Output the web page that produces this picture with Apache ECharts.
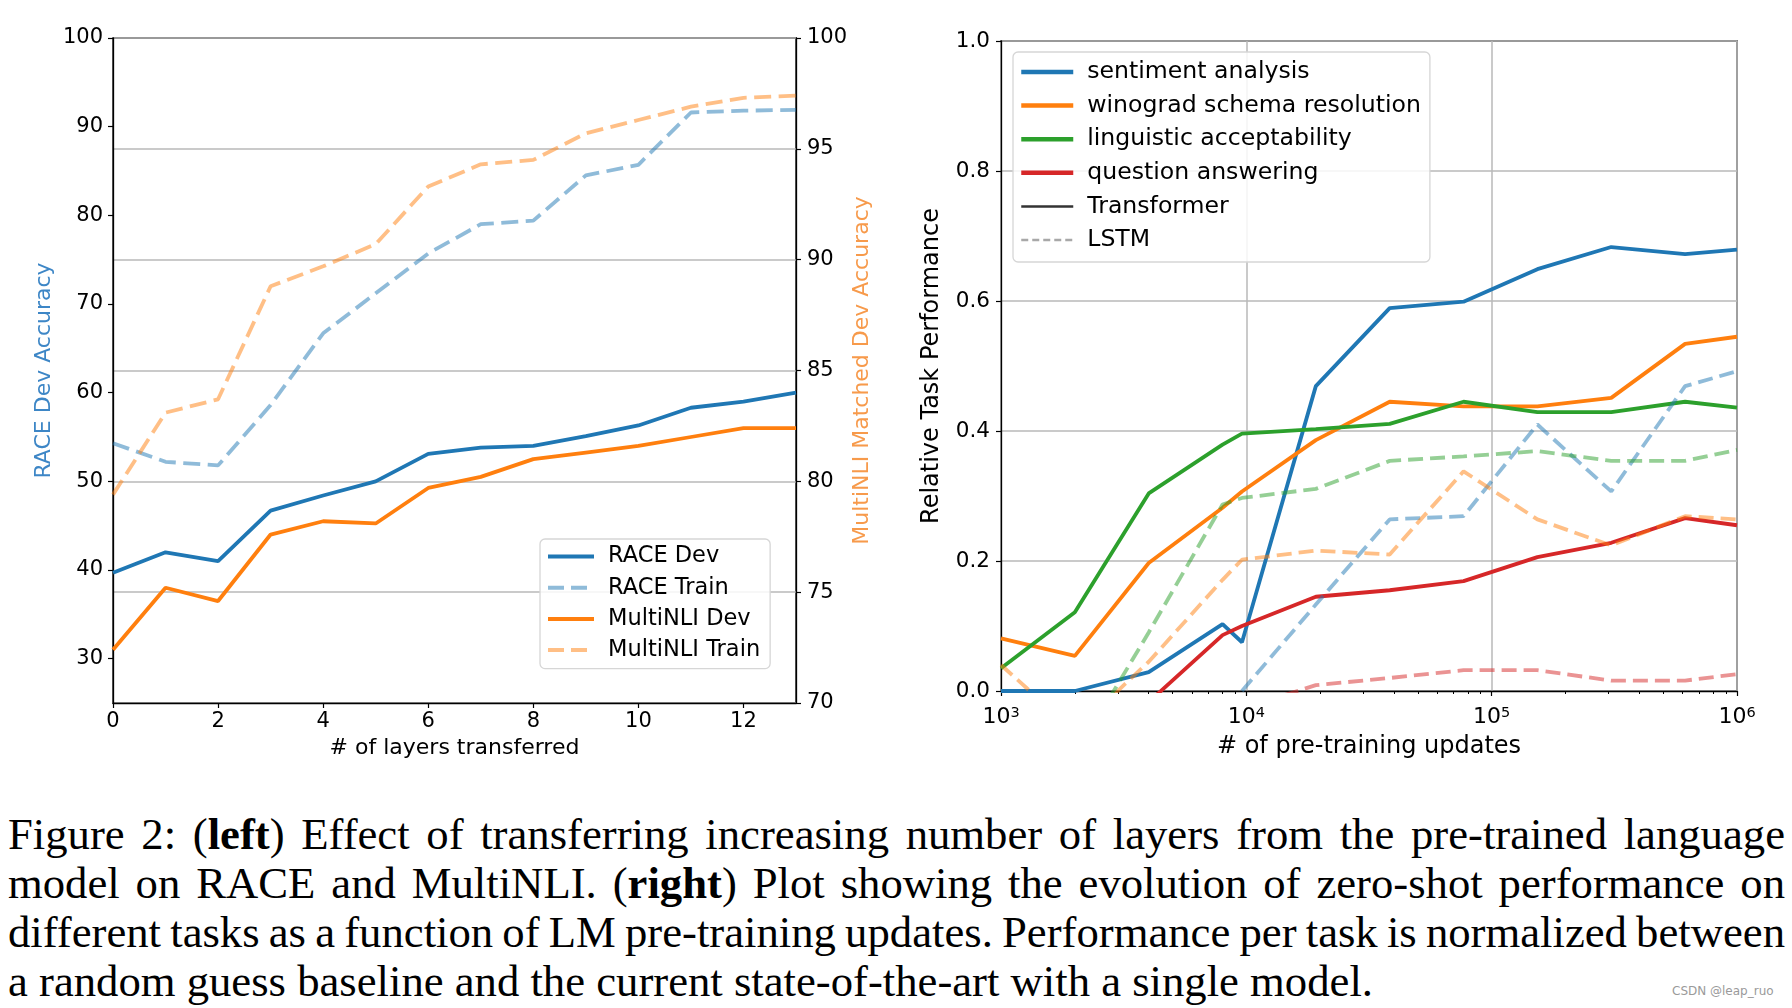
<!DOCTYPE html>
<html>
<head>
<meta charset="utf-8">
<script src="https://cdn.jsdelivr.net/npm/echarts@6/dist/echarts.min.js"></script>
<style>
html,body{margin:0;padding:0;background:#fff;width:1792px;height:1008px;overflow:hidden;}
#chart{position:absolute;left:0;top:0;width:1792px;height:790px;}
#caption{position:absolute;left:8px;top:810px;width:1777px;font-family:"Liberation Serif","Times New Roman",serif;font-size:44.7px;line-height:49px;color:#000;word-spacing:-3px;}
#caption .ln{text-align:justify;text-align-last:justify;}
#caption .last{text-align:left;text-align-last:left;word-spacing:0;}
#wm{position:absolute;left:1672px;top:984px;font-family:"DejaVu Sans",sans-serif;font-size:12px;color:#9a9a9a;}
</style>
</head>
<body>
<div id="chart"></div>
<div id="caption">
<div class="ln">Figure 2: (<b>left</b>) Effect of transferring increasing number of layers from the pre-trained language</div>
<div class="ln">model on RACE and MultiNLI. (<b>right</b>) Plot showing the evolution of zero-shot performance on</div>
<div class="ln">different tasks as a function of LM pre-training updates. Performance per task is normalized between</div>
<div class="ln last">a random guess baseline and the current state-of-the-art with a single model.</div>
</div>
<div id="wm">CSDN @leap_ruo</div>
<script>
// ---------- Left panel data ----------
const layers = [0, 1, 2, 3, 4, 5, 6, 7, 8, 9, 10, 11, 12, 13];
const raceDev = [39.7, 42.0, 41.0, 46.7, 48.4, 50.0, 53.1, 53.8, 54.0, 55.1, 56.3, 58.3, 59.0, 60.0];
const raceTrain = [54.3, 52.2, 51.8, 58.6, 66.7, 71.2, 75.7, 79.0, 79.4, 84.5, 85.7, 91.6, 91.8, 91.9];
const mnliDev = [72.4, 75.2, 74.6, 77.6, 78.2, 78.1, 79.7, 80.2, 81.0, 81.3, 81.6, 82.0, 82.4, 82.4];
const mnliTrain = [79.4, 83.1, 83.7, 88.8, 89.7, 90.7, 93.3, 94.3, 94.5, 95.7, 96.3, 96.9, 97.3, 97.4];
const leftXTicks = [0, 2, 4, 6, 8, 10, 12];
const leftYTicks = [30, 40, 50, 60, 70, 80, 90, 100];

// ---------- Right panel data ----------
const steps = [1000, 2000, 4000, 8000, 9600, 19200, 38400, 76800, 153600, 307200, 614400, 1000000];
const sentTr = [0.0, 0.0, 0.029, 0.103, 0.075, 0.469, 0.589, 0.599, 0.649, 0.683, 0.672, 0.679];
const winoTr = [0.081, 0.054, 0.197, 0.282, 0.307, 0.386, 0.445, 0.438, 0.438, 0.451, 0.534, 0.545];
const lingTr = [0.035, 0.121, 0.304, 0.379, 0.396, 0.403, 0.411, 0.445, 0.429, 0.429, 0.445, 0.436];
const qaTr = [null, null, -0.017, 0.086, 0.100, 0.145, 0.155, 0.169, 0.206, 0.228, 0.266, 0.255];
const sentLstm = [null, null, null, null, 0.0, 0.133, 0.264, 0.269, 0.410, 0.307, 0.469, 0.492];
const winoLstm = [0.040, -0.062, 0.045, 0.171, 0.202, 0.216, 0.210, 0.338, 0.264, 0.224, 0.269, 0.264];
const lingLstm = [null, -0.100, 0.090, 0.287, 0.297, 0.311, 0.354, 0.361, 0.369, 0.354, 0.354, 0.371];
const qaLstm = [null, null, null, null, -0.027, 0.009, 0.020, 0.032, 0.032, 0.016, 0.016, 0.026];
const rightXMajor = [1000, 10000, 100000, 1000000];
const rightXMinor = [2000, 3000, 4000, 5000, 6000, 7000, 8000, 9000,
                     20000, 30000, 40000, 50000, 60000, 70000, 80000, 90000,
                     200000, 300000, 400000, 500000, 600000, 700000, 800000, 900000];

const C = {blue: '#1f77b4', orange: '#ff7f0e', green: '#2ca02c', red: '#d62728'};
const FONT = 'DejaVu Sans';
const LW = 3.8;

function pairs(xs, ys) {
  const out = [];
  xs.forEach((x, i) => { if (ys[i] !== null) out.push([x, ys[i]]); });
  return out;
}
function lineSeries(name, xs, ys, color, dash, xi, yi) {
  return {
    name: name, type: 'line', xAxisIndex: xi, yAxisIndex: yi,
    data: pairs(xs, ys), symbol: 'none', showSymbol: false, clip: true,
    color: color,
    lineStyle: dash ? {color: color, width: LW, type: dash, opacity: 0.5}
                    : {color: color, width: LW},
    emphasis: {disabled: true}
  };
}
const DASH_L = [17, 7.5];
const DASH_R = [15, 7];

const axisLine = {show: true, lineStyle: {color: '#000', width: 1.3}};
const tickStyle = {color: '#000', width: 1.2};
const labelStyle = {color: '#000', fontFamily: FONT, fontSize: 21};
const gridLine = {show: true, lineStyle: {color: '#b8b8b8', width: 1.5}};

const chart = echarts.init(document.getElementById('chart'), null, {renderer: 'canvas'});
chart.setOption({
  animation: false,
  backgroundColor: '#fff',
  grid: [
    {left: 113, top: 38, width: 683, height: 665, show: true, borderColor: '#000', borderWidth: 1.3, backgroundColor: 'transparent'},
    {left: 1001, top: 41, width: 736, height: 650, show: true, borderColor: '#000', borderWidth: 1.3, backgroundColor: 'transparent'}
  ],
  xAxis: [
    {type: 'value', gridIndex: 0, min: 0, max: 13,
     axisLine: axisLine,
     axisTick: {show: true, length: 5, inside: false, lineStyle: tickStyle, customValues: leftXTicks},
     axisLabel: Object.assign({margin: 8, customValues: leftXTicks}, labelStyle),
     splitLine: {show: false},
     name: '# of layers transferred', nameLocation: 'middle', nameGap: 30,
     nameTextStyle: {color: '#000', fontFamily: FONT, fontSize: 22}},
    {type: 'log', logBase: 10, gridIndex: 1, min: 1000, max: 1000000, position: 'bottom',
     axisLine: axisLine,
     axisTick: {show: true, length: 5, lineStyle: tickStyle, customValues: rightXMajor},
     axisLabel: Object.assign({margin: 15, customValues: rightXMajor,
       formatter: function (v) { return '10{s|' + Math.round(Math.log10(v)) + '}'; },
       rich: {s: {fontSize: 14.5, fontFamily: FONT, color: '#000', verticalAlign: 'top', lineHeight: 14}}
     }, labelStyle, {fontSize: 22}),
     splitLine: gridLine,
     name: '# of pre-training updates', nameLocation: 'middle', nameGap: 44,
     nameTextStyle: {color: '#000', fontFamily: FONT, fontSize: 24}},
    {type: 'log', logBase: 10, gridIndex: 1, min: 1000, max: 1000000, position: 'bottom',
     axisLine: {show: false},
     axisTick: {show: true, length: 3, lineStyle: {color: '#000', width: 1}, customValues: rightXMinor},
     axisLabel: {show: false}, splitLine: {show: false}}
  ],
  yAxis: [
    {type: 'value', gridIndex: 0, position: 'left', min: 25, max: 100,
     axisLine: axisLine,
     axisTick: {show: true, length: 5, lineStyle: tickStyle, customValues: leftYTicks},
     axisLabel: Object.assign({margin: 10, customValues: leftYTicks}, labelStyle),
     splitLine: {show: false},
     name: 'RACE Dev Accuracy', nameLocation: 'middle', nameGap: 58, nameRotate: 90,
     nameTextStyle: {color: '#3d86c6', fontFamily: FONT, fontSize: 22}},
    {type: 'value', gridIndex: 0, position: 'right', min: 70, max: 100, interval: 5,
     axisLine: axisLine,
     axisTick: {show: true, length: 5, lineStyle: tickStyle},
     axisLabel: Object.assign({margin: 11}, labelStyle),
     splitLine: gridLine,
     name: 'MultiNLI Matched Dev Accuracy', nameLocation: 'middle', nameGap: 47, nameRotate: 90,
     nameTextStyle: {color: '#f79a4b', fontFamily: FONT, fontSize: 22}},
    {type: 'value', gridIndex: 1, min: 0, max: 1, interval: 0.2,
     axisLine: axisLine,
     axisTick: {show: true, length: 5, lineStyle: tickStyle},
     axisLabel: Object.assign({margin: 11, formatter: function (v) { return v.toFixed(1); }}, labelStyle, {fontSize: 21.5}),
     splitLine: gridLine,
     name: 'Relative Task Performance', nameLocation: 'middle', nameGap: 57, nameRotate: 90,
     nameTextStyle: {color: '#000', fontFamily: FONT, fontSize: 24}}
  ],
  legend: [
    {data: [
       {name: 'RACE Dev', lineStyle: {width: 4}},
       {name: 'RACE Train', lineStyle: {width: 4, type: [16, 7]}},
       {name: 'MultiNLI Dev', lineStyle: {width: 4}},
       {name: 'MultiNLI Train', lineStyle: {width: 4, type: [16, 7]}}],
     orient: 'vertical', left: 540, top: 539,
     padding: [6, 10, 7, 6], itemWidth: 46, itemHeight: 14, itemGap: 8.2,
     itemStyle: {opacity: 0},
     backgroundColor: 'rgba(255,255,255,0.85)', borderColor: '#d6d6d6', borderWidth: 1.3, borderRadius: 5,
     selectedMode: false,
     textStyle: {color: '#000', fontFamily: FONT, fontSize: 22.5, lineHeight: 23, padding: [0, 0, 0, 9]}},
    {data: [
       {name: 'sentiment analysis', lineStyle: {width: 4.5}},
       {name: 'winograd schema resolution', lineStyle: {width: 4.5}},
       {name: 'linguistic acceptability', lineStyle: {width: 4.5}},
       {name: 'question answering', lineStyle: {width: 4.5}},
       {name: 'Transformer', lineStyle: {width: 2.5}},
       {name: 'LSTM', lineStyle: {width: 2.5, type: [7, 4]}}],
     orient: 'vertical', left: 1013, top: 52,
     padding: [8, 9, 10, 6], itemWidth: 52, itemHeight: 14, itemGap: 9.6,
     itemStyle: {opacity: 0},
     backgroundColor: 'rgba(255,255,255,0.85)', borderColor: '#d6d6d6', borderWidth: 1.3, borderRadius: 5,
     selectedMode: false,
     textStyle: {color: '#000', fontFamily: FONT, fontSize: 23.6, lineHeight: 24, padding: [0, 0, 0, 9]}}
  ],
  series: [
    lineSeries('RACE Dev', layers, raceDev, C.blue, null, 0, 0),
    lineSeries('RACE Train', layers, raceTrain, C.blue, DASH_L, 0, 0),
    lineSeries('MultiNLI Dev', layers, mnliDev, C.orange, null, 0, 1),
    lineSeries('MultiNLI Train', layers, mnliTrain, C.orange, DASH_L, 0, 1),

    lineSeries('sentiment analysis', steps, sentTr, C.blue, null, 1, 2),
    lineSeries('winograd schema resolution', steps, winoTr, C.orange, null, 1, 2),
    lineSeries('linguistic acceptability', steps, lingTr, C.green, null, 1, 2),
    lineSeries('question answering', steps, qaTr, C.red, null, 1, 2),
    lineSeries('sentiment analysis (LSTM)', steps, sentLstm, C.blue, DASH_R, 1, 2),
    lineSeries('winograd schema resolution (LSTM)', steps, winoLstm, C.orange, DASH_R, 1, 2),
    lineSeries('linguistic acceptability (LSTM)', steps, lingLstm, C.green, DASH_R, 1, 2),
    lineSeries('question answering (LSTM)', steps, qaLstm, C.red, DASH_R, 1, 2),
    {name: 'Transformer', type: 'line', xAxisIndex: 1, yAxisIndex: 2, data: [], symbol: 'none',
     color: '#333333', lineStyle: {color: '#333333', width: 2.5}},
    {name: 'LSTM', type: 'line', xAxisIndex: 1, yAxisIndex: 2, data: [], symbol: 'none',
     color: '#a8a8a8', lineStyle: {color: '#a8a8a8', width: 2.5, type: [7, 4]}}
  ]
});
</script>
</body>
</html>
